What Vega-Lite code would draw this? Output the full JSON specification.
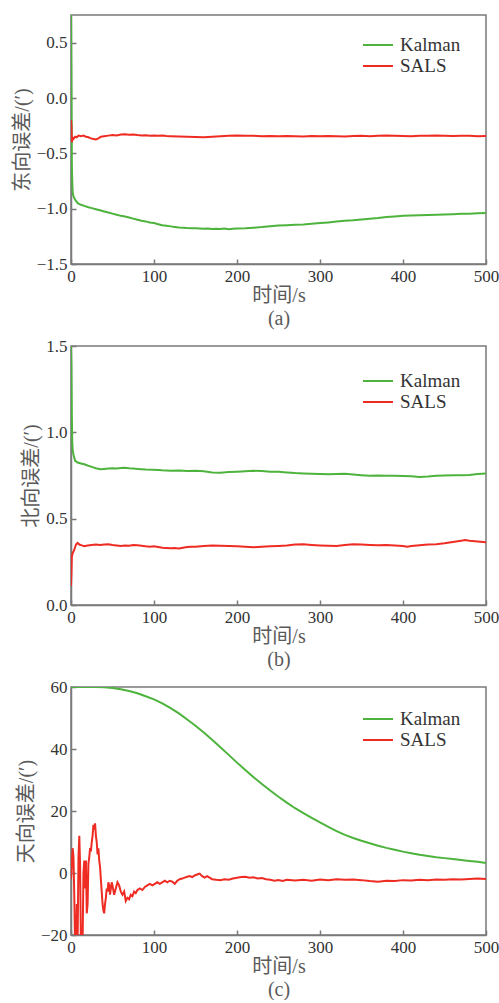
{
  "$schema": "https://vega.github.io/schema/vega-lite/v6.json",
  "padding": {"left": 11, "top": 14, "right": 0, "bottom": 0},
  "autosize": {"type": "pad"},
  "background": "white",
  "bounds": "flush",
  "spacing": 82,
  "config": {
    "view": {"stroke": "#7a7a7a", "strokeWidth": 1.5},
    "axis": {
      "grid": false,
      "domainColor": "#7a7a7a",
      "domainWidth": 1.5,
      "tickColor": "#7a7a7a",
      "tickWidth": 1.5,
      "tickSize": -5,
      "labelPadding": 9,
      "labelFont": "Liberation Serif",
      "labelFontSize": 17,
      "labelColor": "#333333",
      "labelOverlap": false,
      "labelFlush": false,
      "titleFont": "Liberation Serif, Noto Sans CJK SC",
      "titleFontSize": 20,
      "titleFontWeight": "normal",
      "titleColor": "#5a5a5a",
      "titlePadding": 4
    },
    "axisX": {"titleLineHeight": 23, "titlePadding": 1},
    "legend": {
      "symbolType": "M-1.5,0L1.5,0",
      "symbolSize": 400,
      "symbolStrokeWidth": 2.5,
      "labelFont": "Liberation Serif",
      "labelFontSize": 19,
      "labelColor": "#333333",
      "labelOffset": 11,
      "rowPadding": 0
    },
    "line": {"strokeWidth": 2}
  },
  "resolve": {"scale": {"color": "independent"}, "legend": {"color": "independent"}},
  "datasets": {
    "a": [
      {"t": 0, "v": 0.75, "s": "Kalman"}, {"t": 0.5, "v": 0.2, "s": "Kalman"}, {"t": 1, "v": -0.6, "s": "Kalman"}, {"t": 1.5, "v": -0.75, "s": "Kalman"}, {"t": 2, "v": -0.85, "s": "Kalman"}, {"t": 3, "v": -0.89, "s": "Kalman"}, {"t": 5, "v": -0.92, "s": "Kalman"}, {"t": 8, "v": -0.95, "s": "Kalman"}, {"t": 12, "v": -0.965, "s": "Kalman"}, {"t": 16, "v": -0.975, "s": "Kalman"}, {"t": 20, "v": -0.985, "s": "Kalman"}, {"t": 25, "v": -0.995, "s": "Kalman"}, {"t": 30, "v": -1.005, "s": "Kalman"}, {"t": 35, "v": -1.015, "s": "Kalman"}, {"t": 40, "v": -1.025, "s": "Kalman"}, {"t": 45, "v": -1.035, "s": "Kalman"}, {"t": 50, "v": -1.045, "s": "Kalman"}, {"t": 55, "v": -1.055, "s": "Kalman"}, {"t": 60, "v": -1.065, "s": "Kalman"}, {"t": 65, "v": -1.07, "s": "Kalman"}, {"t": 70, "v": -1.08, "s": "Kalman"}, {"t": 75, "v": -1.09, "s": "Kalman"}, {"t": 80, "v": -1.1, "s": "Kalman"}, {"t": 85, "v": -1.11, "s": "Kalman"}, {"t": 90, "v": -1.115, "s": "Kalman"}, {"t": 95, "v": -1.125, "s": "Kalman"}, {"t": 100, "v": -1.13, "s": "Kalman"}, {"t": 105, "v": -1.14, "s": "Kalman"}, {"t": 110, "v": -1.15, "s": "Kalman"}, {"t": 115, "v": -1.155, "s": "Kalman"}, {"t": 120, "v": -1.16, "s": "Kalman"}, {"t": 125, "v": -1.165, "s": "Kalman"}, {"t": 130, "v": -1.17, "s": "Kalman"}, {"t": 135, "v": -1.172, "s": "Kalman"}, {"t": 140, "v": -1.175, "s": "Kalman"}, {"t": 145, "v": -1.176, "s": "Kalman"}, {"t": 150, "v": -1.178, "s": "Kalman"}, {"t": 155, "v": -1.18, "s": "Kalman"}, {"t": 160, "v": -1.182, "s": "Kalman"}, {"t": 165, "v": -1.18, "s": "Kalman"}, {"t": 170, "v": -1.183, "s": "Kalman"}, {"t": 175, "v": -1.182, "s": "Kalman"}, {"t": 180, "v": -1.184, "s": "Kalman"}, {"t": 185, "v": -1.18, "s": "Kalman"}, {"t": 190, "v": -1.185, "s": "Kalman"}, {"t": 195, "v": -1.182, "s": "Kalman"}, {"t": 200, "v": -1.18, "s": "Kalman"}, {"t": 210, "v": -1.177, "s": "Kalman"}, {"t": 220, "v": -1.172, "s": "Kalman"}, {"t": 230, "v": -1.166, "s": "Kalman"}, {"t": 240, "v": -1.158, "s": "Kalman"}, {"t": 250, "v": -1.152, "s": "Kalman"}, {"t": 260, "v": -1.149, "s": "Kalman"}, {"t": 270, "v": -1.146, "s": "Kalman"}, {"t": 280, "v": -1.143, "s": "Kalman"}, {"t": 290, "v": -1.137, "s": "Kalman"}, {"t": 300, "v": -1.13, "s": "Kalman"}, {"t": 310, "v": -1.124, "s": "Kalman"}, {"t": 320, "v": -1.117, "s": "Kalman"}, {"t": 330, "v": -1.11, "s": "Kalman"}, {"t": 340, "v": -1.105, "s": "Kalman"}, {"t": 350, "v": -1.098, "s": "Kalman"}, {"t": 360, "v": -1.092, "s": "Kalman"}, {"t": 370, "v": -1.085, "s": "Kalman"}, {"t": 380, "v": -1.076, "s": "Kalman"}, {"t": 390, "v": -1.07, "s": "Kalman"}, {"t": 400, "v": -1.065, "s": "Kalman"}, {"t": 410, "v": -1.062, "s": "Kalman"}, {"t": 420, "v": -1.06, "s": "Kalman"}, {"t": 430, "v": -1.057, "s": "Kalman"}, {"t": 440, "v": -1.055, "s": "Kalman"}, {"t": 450, "v": -1.052, "s": "Kalman"}, {"t": 460, "v": -1.05, "s": "Kalman"}, {"t": 470, "v": -1.047, "s": "Kalman"}, {"t": 480, "v": -1.045, "s": "Kalman"}, {"t": 490, "v": -1.042, "s": "Kalman"}, {"t": 500, "v": -1.04, "s": "Kalman"},
      {"t": 0, "v": -0.2, "s": "SALS"}, {"t": 0.5, "v": -0.25, "s": "SALS"}, {"t": 1, "v": -0.4, "s": "SALS"}, {"t": 2, "v": -0.36, "s": "SALS"}, {"t": 3, "v": -0.37, "s": "SALS"}, {"t": 5, "v": -0.35, "s": "SALS"}, {"t": 7, "v": -0.355, "s": "SALS"}, {"t": 9, "v": -0.34, "s": "SALS"}, {"t": 12, "v": -0.345, "s": "SALS"}, {"t": 15, "v": -0.34, "s": "SALS"}, {"t": 18, "v": -0.35, "s": "SALS"}, {"t": 21, "v": -0.355, "s": "SALS"}, {"t": 24, "v": -0.365, "s": "SALS"}, {"t": 27, "v": -0.37, "s": "SALS"}, {"t": 30, "v": -0.375, "s": "SALS"}, {"t": 33, "v": -0.365, "s": "SALS"}, {"t": 36, "v": -0.35, "s": "SALS"}, {"t": 40, "v": -0.345, "s": "SALS"}, {"t": 45, "v": -0.34, "s": "SALS"}, {"t": 50, "v": -0.335, "s": "SALS"}, {"t": 55, "v": -0.338, "s": "SALS"}, {"t": 60, "v": -0.33, "s": "SALS"}, {"t": 65, "v": -0.328, "s": "SALS"}, {"t": 70, "v": -0.332, "s": "SALS"}, {"t": 75, "v": -0.33, "s": "SALS"}, {"t": 80, "v": -0.335, "s": "SALS"}, {"t": 85, "v": -0.338, "s": "SALS"}, {"t": 90, "v": -0.336, "s": "SALS"}, {"t": 95, "v": -0.34, "s": "SALS"}, {"t": 100, "v": -0.338, "s": "SALS"}, {"t": 105, "v": -0.342, "s": "SALS"}, {"t": 110, "v": -0.34, "s": "SALS"}, {"t": 115, "v": -0.344, "s": "SALS"}, {"t": 120, "v": -0.345, "s": "SALS"}, {"t": 130, "v": -0.348, "s": "SALS"}, {"t": 140, "v": -0.35, "s": "SALS"}, {"t": 150, "v": -0.352, "s": "SALS"}, {"t": 160, "v": -0.354, "s": "SALS"}, {"t": 170, "v": -0.35, "s": "SALS"}, {"t": 180, "v": -0.346, "s": "SALS"}, {"t": 190, "v": -0.342, "s": "SALS"}, {"t": 200, "v": -0.338, "s": "SALS"}, {"t": 210, "v": -0.34, "s": "SALS"}, {"t": 220, "v": -0.342, "s": "SALS"}, {"t": 230, "v": -0.345, "s": "SALS"}, {"t": 240, "v": -0.344, "s": "SALS"}, {"t": 250, "v": -0.346, "s": "SALS"}, {"t": 260, "v": -0.343, "s": "SALS"}, {"t": 270, "v": -0.345, "s": "SALS"}, {"t": 280, "v": -0.348, "s": "SALS"}, {"t": 290, "v": -0.344, "s": "SALS"}, {"t": 300, "v": -0.346, "s": "SALS"}, {"t": 310, "v": -0.343, "s": "SALS"}, {"t": 320, "v": -0.345, "s": "SALS"}, {"t": 330, "v": -0.348, "s": "SALS"}, {"t": 340, "v": -0.344, "s": "SALS"}, {"t": 350, "v": -0.342, "s": "SALS"}, {"t": 360, "v": -0.345, "s": "SALS"}, {"t": 370, "v": -0.341, "s": "SALS"}, {"t": 380, "v": -0.338, "s": "SALS"}, {"t": 390, "v": -0.34, "s": "SALS"}, {"t": 400, "v": -0.343, "s": "SALS"}, {"t": 410, "v": -0.345, "s": "SALS"}, {"t": 420, "v": -0.342, "s": "SALS"}, {"t": 430, "v": -0.34, "s": "SALS"}, {"t": 440, "v": -0.338, "s": "SALS"}, {"t": 450, "v": -0.341, "s": "SALS"}, {"t": 460, "v": -0.343, "s": "SALS"}, {"t": 470, "v": -0.34, "s": "SALS"}, {"t": 480, "v": -0.342, "s": "SALS"}, {"t": 490, "v": -0.345, "s": "SALS"}, {"t": 500, "v": -0.343, "s": "SALS"}
    ],
    "b": [
      {"t": 0, "v": 1.5, "s": "Kalman"}, {"t": 0.5, "v": 1.38, "s": "Kalman"}, {"t": 1, "v": 1.1, "s": "Kalman"}, {"t": 1.5, "v": 0.95, "s": "Kalman"}, {"t": 2, "v": 0.9, "s": "Kalman"}, {"t": 3, "v": 0.87, "s": "Kalman"}, {"t": 5, "v": 0.835, "s": "Kalman"}, {"t": 8, "v": 0.825, "s": "Kalman"}, {"t": 12, "v": 0.82, "s": "Kalman"}, {"t": 16, "v": 0.815, "s": "Kalman"}, {"t": 20, "v": 0.808, "s": "Kalman"}, {"t": 25, "v": 0.8, "s": "Kalman"}, {"t": 30, "v": 0.792, "s": "Kalman"}, {"t": 35, "v": 0.786, "s": "Kalman"}, {"t": 40, "v": 0.788, "s": "Kalman"}, {"t": 45, "v": 0.79, "s": "Kalman"}, {"t": 50, "v": 0.792, "s": "Kalman"}, {"t": 55, "v": 0.79, "s": "Kalman"}, {"t": 60, "v": 0.793, "s": "Kalman"}, {"t": 65, "v": 0.795, "s": "Kalman"}, {"t": 70, "v": 0.792, "s": "Kalman"}, {"t": 75, "v": 0.79, "s": "Kalman"}, {"t": 80, "v": 0.788, "s": "Kalman"}, {"t": 90, "v": 0.785, "s": "Kalman"}, {"t": 100, "v": 0.784, "s": "Kalman"}, {"t": 110, "v": 0.78, "s": "Kalman"}, {"t": 120, "v": 0.778, "s": "Kalman"}, {"t": 130, "v": 0.779, "s": "Kalman"}, {"t": 140, "v": 0.776, "s": "Kalman"}, {"t": 150, "v": 0.777, "s": "Kalman"}, {"t": 160, "v": 0.774, "s": "Kalman"}, {"t": 170, "v": 0.768, "s": "Kalman"}, {"t": 180, "v": 0.766, "s": "Kalman"}, {"t": 190, "v": 0.77, "s": "Kalman"}, {"t": 200, "v": 0.772, "s": "Kalman"}, {"t": 210, "v": 0.775, "s": "Kalman"}, {"t": 220, "v": 0.777, "s": "Kalman"}, {"t": 230, "v": 0.776, "s": "Kalman"}, {"t": 240, "v": 0.772, "s": "Kalman"}, {"t": 250, "v": 0.771, "s": "Kalman"}, {"t": 260, "v": 0.768, "s": "Kalman"}, {"t": 270, "v": 0.764, "s": "Kalman"}, {"t": 280, "v": 0.762, "s": "Kalman"}, {"t": 290, "v": 0.76, "s": "Kalman"}, {"t": 300, "v": 0.758, "s": "Kalman"}, {"t": 310, "v": 0.757, "s": "Kalman"}, {"t": 320, "v": 0.758, "s": "Kalman"}, {"t": 330, "v": 0.76, "s": "Kalman"}, {"t": 340, "v": 0.756, "s": "Kalman"}, {"t": 350, "v": 0.752, "s": "Kalman"}, {"t": 360, "v": 0.749, "s": "Kalman"}, {"t": 370, "v": 0.75, "s": "Kalman"}, {"t": 380, "v": 0.748, "s": "Kalman"}, {"t": 390, "v": 0.749, "s": "Kalman"}, {"t": 400, "v": 0.747, "s": "Kalman"}, {"t": 410, "v": 0.746, "s": "Kalman"}, {"t": 420, "v": 0.742, "s": "Kalman"}, {"t": 430, "v": 0.744, "s": "Kalman"}, {"t": 440, "v": 0.748, "s": "Kalman"}, {"t": 450, "v": 0.75, "s": "Kalman"}, {"t": 460, "v": 0.752, "s": "Kalman"}, {"t": 470, "v": 0.751, "s": "Kalman"}, {"t": 480, "v": 0.753, "s": "Kalman"}, {"t": 490, "v": 0.758, "s": "Kalman"}, {"t": 500, "v": 0.762, "s": "Kalman"},
      {"t": 0, "v": 0.11, "s": "SALS"}, {"t": 0.5, "v": 0.18, "s": "SALS"}, {"t": 1, "v": 0.28, "s": "SALS"}, {"t": 2, "v": 0.3, "s": "SALS"}, {"t": 4, "v": 0.32, "s": "SALS"}, {"t": 6, "v": 0.35, "s": "SALS"}, {"t": 8, "v": 0.36, "s": "SALS"}, {"t": 10, "v": 0.35, "s": "SALS"}, {"t": 13, "v": 0.345, "s": "SALS"}, {"t": 16, "v": 0.34, "s": "SALS"}, {"t": 20, "v": 0.345, "s": "SALS"}, {"t": 25, "v": 0.348, "s": "SALS"}, {"t": 30, "v": 0.35, "s": "SALS"}, {"t": 35, "v": 0.348, "s": "SALS"}, {"t": 40, "v": 0.35, "s": "SALS"}, {"t": 45, "v": 0.352, "s": "SALS"}, {"t": 50, "v": 0.348, "s": "SALS"}, {"t": 55, "v": 0.345, "s": "SALS"}, {"t": 60, "v": 0.342, "s": "SALS"}, {"t": 65, "v": 0.345, "s": "SALS"}, {"t": 70, "v": 0.343, "s": "SALS"}, {"t": 75, "v": 0.348, "s": "SALS"}, {"t": 80, "v": 0.346, "s": "SALS"}, {"t": 85, "v": 0.343, "s": "SALS"}, {"t": 90, "v": 0.34, "s": "SALS"}, {"t": 95, "v": 0.338, "s": "SALS"}, {"t": 100, "v": 0.34, "s": "SALS"}, {"t": 105, "v": 0.336, "s": "SALS"}, {"t": 110, "v": 0.332, "s": "SALS"}, {"t": 115, "v": 0.33, "s": "SALS"}, {"t": 120, "v": 0.328, "s": "SALS"}, {"t": 125, "v": 0.33, "s": "SALS"}, {"t": 130, "v": 0.327, "s": "SALS"}, {"t": 135, "v": 0.332, "s": "SALS"}, {"t": 140, "v": 0.336, "s": "SALS"}, {"t": 145, "v": 0.338, "s": "SALS"}, {"t": 150, "v": 0.337, "s": "SALS"}, {"t": 160, "v": 0.342, "s": "SALS"}, {"t": 170, "v": 0.345, "s": "SALS"}, {"t": 180, "v": 0.343, "s": "SALS"}, {"t": 190, "v": 0.342, "s": "SALS"}, {"t": 200, "v": 0.34, "s": "SALS"}, {"t": 210, "v": 0.338, "s": "SALS"}, {"t": 220, "v": 0.335, "s": "SALS"}, {"t": 230, "v": 0.337, "s": "SALS"}, {"t": 240, "v": 0.34, "s": "SALS"}, {"t": 250, "v": 0.342, "s": "SALS"}, {"t": 260, "v": 0.345, "s": "SALS"}, {"t": 270, "v": 0.35, "s": "SALS"}, {"t": 280, "v": 0.352, "s": "SALS"}, {"t": 290, "v": 0.348, "s": "SALS"}, {"t": 300, "v": 0.345, "s": "SALS"}, {"t": 310, "v": 0.343, "s": "SALS"}, {"t": 320, "v": 0.342, "s": "SALS"}, {"t": 330, "v": 0.348, "s": "SALS"}, {"t": 340, "v": 0.352, "s": "SALS"}, {"t": 350, "v": 0.35, "s": "SALS"}, {"t": 360, "v": 0.348, "s": "SALS"}, {"t": 370, "v": 0.346, "s": "SALS"}, {"t": 380, "v": 0.347, "s": "SALS"}, {"t": 390, "v": 0.345, "s": "SALS"}, {"t": 400, "v": 0.342, "s": "SALS"}, {"t": 405, "v": 0.338, "s": "SALS"}, {"t": 410, "v": 0.342, "s": "SALS"}, {"t": 420, "v": 0.346, "s": "SALS"}, {"t": 430, "v": 0.35, "s": "SALS"}, {"t": 440, "v": 0.352, "s": "SALS"}, {"t": 450, "v": 0.357, "s": "SALS"}, {"t": 460, "v": 0.365, "s": "SALS"}, {"t": 470, "v": 0.372, "s": "SALS"}, {"t": 475, "v": 0.376, "s": "SALS"}, {"t": 480, "v": 0.372, "s": "SALS"}, {"t": 490, "v": 0.368, "s": "SALS"}, {"t": 500, "v": 0.364, "s": "SALS"}
    ],
    "c": [
      {"t": 0, "v": 60, "s": "Kalman"}, {"t": 10, "v": 60, "s": "Kalman"}, {"t": 20, "v": 60, "s": "Kalman"}, {"t": 30, "v": 60, "s": "Kalman"}, {"t": 40, "v": 59.9, "s": "Kalman"}, {"t": 50, "v": 59.7, "s": "Kalman"}, {"t": 60, "v": 59.3, "s": "Kalman"}, {"t": 70, "v": 58.7, "s": "Kalman"}, {"t": 80, "v": 58, "s": "Kalman"}, {"t": 90, "v": 57, "s": "Kalman"}, {"t": 100, "v": 56, "s": "Kalman"}, {"t": 110, "v": 54.7, "s": "Kalman"}, {"t": 120, "v": 53.2, "s": "Kalman"}, {"t": 130, "v": 51.5, "s": "Kalman"}, {"t": 140, "v": 49.5, "s": "Kalman"}, {"t": 150, "v": 47.5, "s": "Kalman"}, {"t": 160, "v": 45.3, "s": "Kalman"}, {"t": 170, "v": 43, "s": "Kalman"}, {"t": 180, "v": 40.6, "s": "Kalman"}, {"t": 190, "v": 38.1, "s": "Kalman"}, {"t": 200, "v": 35.6, "s": "Kalman"}, {"t": 210, "v": 33.2, "s": "Kalman"}, {"t": 220, "v": 30.9, "s": "Kalman"}, {"t": 230, "v": 28.7, "s": "Kalman"}, {"t": 240, "v": 26.6, "s": "Kalman"}, {"t": 250, "v": 24.6, "s": "Kalman"}, {"t": 260, "v": 22.7, "s": "Kalman"}, {"t": 270, "v": 20.9, "s": "Kalman"}, {"t": 280, "v": 19.3, "s": "Kalman"}, {"t": 290, "v": 17.8, "s": "Kalman"}, {"t": 300, "v": 16.3, "s": "Kalman"}, {"t": 310, "v": 14.9, "s": "Kalman"}, {"t": 320, "v": 13.5, "s": "Kalman"}, {"t": 330, "v": 12.3, "s": "Kalman"}, {"t": 340, "v": 11.3, "s": "Kalman"}, {"t": 350, "v": 10.4, "s": "Kalman"}, {"t": 360, "v": 9.6, "s": "Kalman"}, {"t": 370, "v": 8.8, "s": "Kalman"}, {"t": 380, "v": 8.1, "s": "Kalman"}, {"t": 390, "v": 7.5, "s": "Kalman"}, {"t": 400, "v": 6.9, "s": "Kalman"}, {"t": 410, "v": 6.4, "s": "Kalman"}, {"t": 420, "v": 5.9, "s": "Kalman"}, {"t": 430, "v": 5.5, "s": "Kalman"}, {"t": 440, "v": 5.1, "s": "Kalman"}, {"t": 450, "v": 4.8, "s": "Kalman"}, {"t": 460, "v": 4.5, "s": "Kalman"}, {"t": 470, "v": 4.2, "s": "Kalman"}, {"t": 480, "v": 3.9, "s": "Kalman"}, {"t": 490, "v": 3.6, "s": "Kalman"}, {"t": 500, "v": 3.2, "s": "Kalman"},
      {"t": 0, "v": -2, "s": "SALS"}, {"t": 1, "v": 3, "s": "SALS"}, {"t": 2, "v": 8, "s": "SALS"}, {"t": 3, "v": 5, "s": "SALS"}, {"t": 4, "v": -8, "s": "SALS"}, {"t": 5, "v": -25, "s": "SALS"}, {"t": 6, "v": -25, "s": "SALS"}, {"t": 7, "v": -10, "s": "SALS"}, {"t": 8, "v": -22, "s": "SALS"}, {"t": 9, "v": 5, "s": "SALS"}, {"t": 10, "v": 12, "s": "SALS"}, {"t": 11, "v": 2, "s": "SALS"}, {"t": 12, "v": -25, "s": "SALS"}, {"t": 13, "v": -25, "s": "SALS"}, {"t": 14, "v": -22, "s": "SALS"}, {"t": 15, "v": 0, "s": "SALS"}, {"t": 16, "v": 4, "s": "SALS"}, {"t": 17, "v": -5, "s": "SALS"}, {"t": 18, "v": 4, "s": "SALS"}, {"t": 19, "v": -13, "s": "SALS"}, {"t": 20, "v": -10, "s": "SALS"}, {"t": 21, "v": 3, "s": "SALS"}, {"t": 22, "v": 5, "s": "SALS"}, {"t": 23, "v": 8, "s": "SALS"}, {"t": 24, "v": 7, "s": "SALS"}, {"t": 25, "v": 10, "s": "SALS"}, {"t": 26, "v": 12, "s": "SALS"}, {"t": 27, "v": 15.5, "s": "SALS"}, {"t": 28, "v": 14, "s": "SALS"}, {"t": 29, "v": 16, "s": "SALS"}, {"t": 30, "v": 12, "s": "SALS"}, {"t": 31, "v": 10, "s": "SALS"}, {"t": 32, "v": 6, "s": "SALS"}, {"t": 33, "v": 8, "s": "SALS"}, {"t": 34, "v": 4, "s": "SALS"}, {"t": 35, "v": 2, "s": "SALS"}, {"t": 36, "v": -2, "s": "SALS"}, {"t": 37, "v": -6, "s": "SALS"}, {"t": 38, "v": -10, "s": "SALS"}, {"t": 39, "v": -12, "s": "SALS"}, {"t": 40, "v": -13, "s": "SALS"}, {"t": 41, "v": -10, "s": "SALS"}, {"t": 42, "v": -8, "s": "SALS"}, {"t": 43, "v": -5, "s": "SALS"}, {"t": 44, "v": -6, "s": "SALS"}, {"t": 45, "v": -3, "s": "SALS"}, {"t": 46, "v": -4, "s": "SALS"}, {"t": 47, "v": -7, "s": "SALS"}, {"t": 48, "v": -5, "s": "SALS"}, {"t": 49, "v": -3, "s": "SALS"}, {"t": 50, "v": -4, "s": "SALS"}, {"t": 52, "v": -7, "s": "SALS"}, {"t": 54, "v": -5, "s": "SALS"}, {"t": 56, "v": -3, "s": "SALS"}, {"t": 58, "v": -4, "s": "SALS"}, {"t": 60, "v": -6, "s": "SALS"}, {"t": 62, "v": -7, "s": "SALS"}, {"t": 64, "v": -6, "s": "SALS"}, {"t": 66, "v": -9, "s": "SALS"}, {"t": 68, "v": -8, "s": "SALS"}, {"t": 70, "v": -8.5, "s": "SALS"}, {"t": 72, "v": -7, "s": "SALS"}, {"t": 74, "v": -7.5, "s": "SALS"}, {"t": 76, "v": -6, "s": "SALS"}, {"t": 78, "v": -6.5, "s": "SALS"}, {"t": 80, "v": -5.5, "s": "SALS"}, {"t": 83, "v": -5, "s": "SALS"}, {"t": 86, "v": -5.5, "s": "SALS"}, {"t": 89, "v": -4.5, "s": "SALS"}, {"t": 92, "v": -4, "s": "SALS"}, {"t": 95, "v": -3.5, "s": "SALS"}, {"t": 98, "v": -4, "s": "SALS"}, {"t": 101, "v": -3.5, "s": "SALS"}, {"t": 104, "v": -3, "s": "SALS"}, {"t": 107, "v": -3.5, "s": "SALS"}, {"t": 110, "v": -3, "s": "SALS"}, {"t": 113, "v": -2.5, "s": "SALS"}, {"t": 116, "v": -3, "s": "SALS"}, {"t": 119, "v": -2.5, "s": "SALS"}, {"t": 122, "v": -2.8, "s": "SALS"}, {"t": 125, "v": -3.5, "s": "SALS"}, {"t": 128, "v": -2.5, "s": "SALS"}, {"t": 131, "v": -2, "s": "SALS"}, {"t": 134, "v": -1.8, "s": "SALS"}, {"t": 137, "v": -1.5, "s": "SALS"}, {"t": 140, "v": -1.2, "s": "SALS"}, {"t": 143, "v": -1, "s": "SALS"}, {"t": 146, "v": -1.3, "s": "SALS"}, {"t": 149, "v": -0.8, "s": "SALS"}, {"t": 152, "v": -0.5, "s": "SALS"}, {"t": 155, "v": -0.2, "s": "SALS"}, {"t": 158, "v": -1, "s": "SALS"}, {"t": 161, "v": -1.5, "s": "SALS"}, {"t": 164, "v": -1, "s": "SALS"}, {"t": 167, "v": -1.5, "s": "SALS"}, {"t": 170, "v": -2, "s": "SALS"}, {"t": 175, "v": -2.2, "s": "SALS"}, {"t": 180, "v": -2.3, "s": "SALS"}, {"t": 185, "v": -2, "s": "SALS"}, {"t": 190, "v": -2.2, "s": "SALS"}, {"t": 195, "v": -1.8, "s": "SALS"}, {"t": 200, "v": -1.5, "s": "SALS"}, {"t": 205, "v": -1.3, "s": "SALS"}, {"t": 210, "v": -1.2, "s": "SALS"}, {"t": 215, "v": -1.5, "s": "SALS"}, {"t": 220, "v": -1.4, "s": "SALS"}, {"t": 225, "v": -1.8, "s": "SALS"}, {"t": 230, "v": -1.6, "s": "SALS"}, {"t": 235, "v": -2, "s": "SALS"}, {"t": 240, "v": -2.2, "s": "SALS"}, {"t": 245, "v": -2.5, "s": "SALS"}, {"t": 250, "v": -2.3, "s": "SALS"}, {"t": 255, "v": -2.6, "s": "SALS"}, {"t": 260, "v": -2.2, "s": "SALS"}, {"t": 270, "v": -2.4, "s": "SALS"}, {"t": 280, "v": -2.2, "s": "SALS"}, {"t": 290, "v": -2.5, "s": "SALS"}, {"t": 300, "v": -2.1, "s": "SALS"}, {"t": 310, "v": -2.3, "s": "SALS"}, {"t": 320, "v": -2, "s": "SALS"}, {"t": 330, "v": -2.2, "s": "SALS"}, {"t": 340, "v": -2.1, "s": "SALS"}, {"t": 350, "v": -2.3, "s": "SALS"}, {"t": 360, "v": -2.6, "s": "SALS"}, {"t": 370, "v": -2.8, "s": "SALS"}, {"t": 380, "v": -2.5, "s": "SALS"}, {"t": 390, "v": -2.6, "s": "SALS"}, {"t": 400, "v": -2.3, "s": "SALS"}, {"t": 410, "v": -2.4, "s": "SALS"}, {"t": 420, "v": -2.2, "s": "SALS"}, {"t": 430, "v": -2.3, "s": "SALS"}, {"t": 440, "v": -2.1, "s": "SALS"}, {"t": 450, "v": -2.2, "s": "SALS"}, {"t": 460, "v": -2, "s": "SALS"}, {"t": 470, "v": -2.1, "s": "SALS"}, {"t": 480, "v": -1.9, "s": "SALS"}, {"t": 490, "v": -1.8, "s": "SALS"}, {"t": 500, "v": -1.9, "s": "SALS"}
    ]
  },
  "vconcat": [
    {
      "width": 415, "height": 249,
      "data": {"name": "a"},
      "mark": {"type": "line", "clip": true},
      "encoding": {
        "x": {"field": "t", "type": "quantitative", "scale": {"domain": [0, 500], "nice": false}, "axis": {"values": [0, 100, 200, 300, 400, 500], "title": ["时间/s", "(a)"]}},
        "y": {"field": "v", "type": "quantitative", "scale": {"domain": [-1.5, 0.75], "nice": false, "zero": false}, "axis": {"values": [-1.5, -1, -0.5, 0, 0.5], "format": ".1f", "title": "东向误差/(′)"}},
        "color": {"field": "s", "type": "nominal", "scale": {"domain": ["Kalman", "SALS"], "range": ["#4db33d", "#ee2c23"]}, "legend": {"title": null, "orient": "none", "legendX": 296, "legendY": 19}}
      }
    },
    {
      "width": 415, "height": 259,
      "data": {"name": "b"},
      "mark": {"type": "line", "clip": true},
      "encoding": {
        "x": {"field": "t", "type": "quantitative", "scale": {"domain": [0, 500], "nice": false}, "axis": {"values": [0, 100, 200, 300, 400, 500], "title": ["时间/s", "(b)"]}},
        "y": {"field": "v", "type": "quantitative", "scale": {"domain": [0, 1.5], "nice": false}, "axis": {"values": [0, 0.5, 1, 1.5], "format": ".1f", "title": "北向误差/(′)"}},
        "color": {"field": "s", "type": "nominal", "scale": {"domain": ["Kalman", "SALS"], "range": ["#4db33d", "#ee2c23"]}, "legend": {"title": null, "orient": "none", "legendX": 296, "legendY": 24}}
      }
    },
    {
      "width": 415, "height": 248,
      "data": {"name": "c"},
      "mark": {"type": "line", "clip": true},
      "encoding": {
        "x": {"field": "t", "type": "quantitative", "scale": {"domain": [0, 500], "nice": false}, "axis": {"values": [0, 100, 200, 300, 400, 500], "title": ["时间/s", "(c)"]}},
        "y": {"field": "v", "type": "quantitative", "scale": {"domain": [-20, 60], "nice": false, "zero": false}, "axis": {"values": [-20, 0, 20, 40, 60], "title": "天向误差/(′)"}},
        "color": {"field": "s", "type": "nominal", "scale": {"domain": ["Kalman", "SALS"], "range": ["#4db33d", "#ee2c23"]}, "legend": {"title": null, "orient": "none", "legendX": 296, "legendY": 21}}
      }
    }
  ]
}
